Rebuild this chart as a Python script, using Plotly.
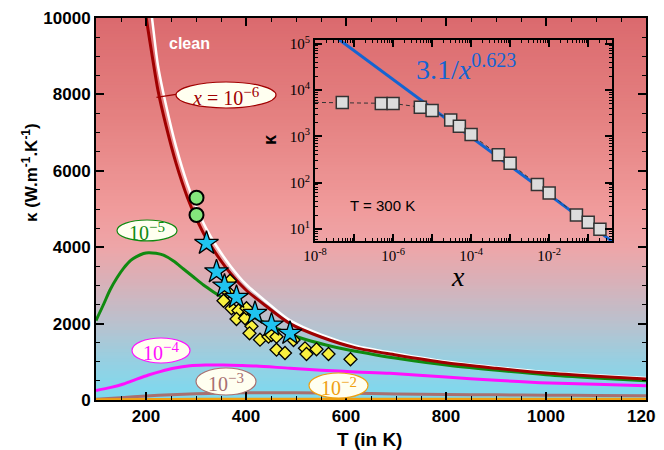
import plotly.graph_objects as go

# ---------------- main panel data ----------------
T_clean = [205, 212, 224, 240, 260, 283, 300, 320, 341, 370, 400, 440, 488, 550, 620, 700, 800, 900, 1000, 1100, 1200]
K_clean = [10650, 10000, 8750, 7720, 6640, 5650, 5070, 4500, 4030, 3490, 3030, 2580, 2085, 1712, 1416, 1221, 1010, 860, 734, 648, 578]

T_1e6 = [195, 200, 212, 224, 240, 260, 283, 300, 320, 341, 370, 400, 440, 488, 550, 620, 700, 800, 900, 1000, 1100, 1200]
K_1e6 = [10700, 10060, 9040, 8100, 7180, 6200, 5296, 4770, 4245, 3810, 3300, 2880, 2460, 2000, 1650, 1365, 1180, 975, 830, 705, 620, 550]

T_1e5 = [100, 115, 128, 142, 155, 170, 181, 195, 205, 220, 235, 255, 275, 295, 315, 335, 355, 380, 408, 435, 461, 508, 560, 608, 660, 708, 808, 908, 1000, 1100, 1200]
K_1e5 = [2080, 2500, 2880, 3200, 3447, 3660, 3752, 3835, 3857, 3840, 3790, 3640, 3430, 3220, 3011, 2830, 2662, 2440, 2225, 2040, 1877, 1630, 1440, 1300, 1180, 1080, 905, 770, 660, 575, 505]

T_1e4 = [100, 130, 155, 180, 205, 230, 255, 288, 320, 355, 390, 421, 488, 550, 620, 688, 800, 900, 988, 1100, 1200]
K_1e4 = [250, 330, 419, 540, 654, 750, 830, 898, 915, 916, 905, 890, 830, 780, 735, 698, 600, 515, 454, 410, 375]

T_1e3 = [100, 150, 200, 250, 300, 350, 400, 450, 500, 600, 700, 800, 900, 1000, 1100, 1200]
K_1e3 = [20, 60, 105, 140, 165, 180, 188, 192, 190, 175, 160, 145, 135, 125, 118, 113]

T_1e2 = [100, 200, 300, 400, 500, 600, 700, 800, 900, 1000, 1100, 1200]
K_1e2 = [4, 12, 17, 19, 20, 20, 20, 19, 19, 18, 18, 17]

T_circ = [301, 301]
K_circ = [5296, 4843]

T_star = [321, 341, 357, 381, 418, 451, 488]
K_star = [4102, 3359, 2985, 2689, 2269, 1964, 1745]

T_diam = [368, 364, 355, 371, 385, 381, 398, 401, 411, 407, 428, 445, 451, 461, 461, 478, 495, 518, 521, 541, 565, 609]
K_diam = [3123, 2827, 2597, 2401, 2343, 2121, 2139, 2401, 1929, 1746, 1579, 1657, 1702, 1657, 1317, 1230, 1571, 1353, 1204, 1327, 1204, 1066]

x_ticks = [200, 400, 600, 800, 1000, 1200]
y_ticks = [0, 2000, 4000, 6000, 8000, 10000]
y_ticktext = ["0", "2000", "4000", "6000", "8000", "10000"]

# ---------------- inset data ----------------
x_sq = [5e-8, 5e-7, 1e-6, 5e-6, 1e-5, 3e-5, 5e-5, 1e-4, 5e-4, 1e-3, 5e-3, 1e-2, 5e-2, 1e-1, 2e-1]
k_sq = [5350, 5130, 5130, 4270, 3630, 2240, 1660, 1100, 400, 263, 91, 60, 20, 14, 9.8]
x_dash = [1e-8] + x_sq
k_dash = [5400] + k_sq
x_fit = [3e-8, 0.41]
k_fit = [1.5e5, 5.4]
ix_ticks = [1e-8, 1e-7, 1e-6, 1e-5, 1e-4, 1e-3, 1e-2, 1e-1]
ix_text = ["10<sup>-8</sup>", "", "10<sup>-6</sup>", "", "10<sup>-4</sup>", "", "10<sup>-2</sup>", ""]
iy_ticks = [1e1, 1e2, 1e3, 1e4, 1e5]
iy_text = ["10<sup>1</sup>", "10<sup>2</sup>", "10<sup>3</sup>", "10<sup>4</sup>", "10<sup>5</sup>"]

# background gradient stops (K value -> colour)
grad_K = [0, 1000, 2000, 3000, 4000, 5000, 7500, 10000]
grad_rgb = [(122, 218, 240), (150, 208, 226), (185, 193, 206), (214, 178, 186),
            (238, 165, 168), (240, 155, 155), (228, 128, 128), (219, 106, 110)]

SERIF = "Liberation Serif"
SANS = "Liberation Sans"

fig = go.Figure()

def line(x, y, color, width, **kw):
    fig.add_trace(go.Scatter(x=x, y=y, mode="lines", line=dict(color=color, width=width, shape="spline", smoothing=0.8),
                             hoverinfo="skip", **kw))

line(T_1e3, K_1e3, "#a87070", 3)
line(T_1e2, K_1e2, "#f0a010", 3)
line(T_1e4, K_1e4, "#ff10ff", 3)
line(T_1e5, K_1e5, "#108a10", 3)
line(T_clean, K_clean, "white", 2.5)
line(T_1e6, K_1e6, "#a00000", 3)

fig.add_trace(go.Scatter(x=T_diam, y=K_diam, mode="markers", hoverinfo="skip",
                         marker=dict(symbol="diamond", size=10, color="#f8f040", line=dict(color="black", width=1.3))))
fig.add_trace(go.Scatter(x=T_star, y=K_star, mode="markers", hoverinfo="skip",
                         marker=dict(symbol="star", size=18, color="#20c4f0", line=dict(color="black", width=1.3))))
fig.add_trace(go.Scatter(x=T_circ, y=K_circ, mode="markers", hoverinfo="skip",
                         marker=dict(symbol="circle", size=14, color="#84e67c", line=dict(color="black", width=2))))

# inset traces
fig.add_trace(go.Scatter(x=x_fit, y=k_fit, mode="lines", xaxis="x2", yaxis="y2", hoverinfo="skip",
                         line=dict(color="#1464d2", width=3)))
fig.add_trace(go.Scatter(x=x_dash, y=k_dash, mode="lines", xaxis="x2", yaxis="y2", hoverinfo="skip",
                         line=dict(color="#333333", width=1, dash="4px,3px")))
fig.add_trace(go.Scatter(x=x_sq, y=k_sq, mode="markers", xaxis="x2", yaxis="y2", hoverinfo="skip",
                         marker=dict(symbol="square", size=12, color="#dcdcdc", line=dict(color="#333333", width=1.5))))

shapes = []
# gradient: stacked rectangles from each level up to the top (no gaps)
n = 120
for i in range(n):
    y0 = 10000 * i / n
    ym = 10000 * (i + 0.5) / n
    for j in range(len(grad_K) - 1):
        if grad_K[j] <= ym <= grad_K[j + 1]:
            f = (ym - grad_K[j]) / (grad_K[j + 1] - grad_K[j])
            c = tuple(round(grad_rgb[j][k] + f * (grad_rgb[j + 1][k] - grad_rgb[j][k])) for k in range(3))
            break
    shapes.append(dict(type="rect", xref="x", yref="y", x0=100, x1=1200, y0=y0, y1=10000,
                       fillcolor="rgb(%d,%d,%d)" % c, line=dict(width=0), layer="below"))
# inset background
shapes.append(dict(type="rect", xref="x2 domain", yref="y2 domain", x0=0, x1=1, y0=0, y1=1,
                   fillcolor="#fdfde9", line=dict(width=0), layer="below"))

def sup(t, px):
    return "<sup><span style='font-size:%dpx'>%s</span></sup>" % (px, t)

IVORY = "#fffff0"
ellipses = [
    # (x0, x1, y0, y1, colour, text)
    (260, 460, 7644, 8325, "#a00000", "<i>x</i> = 10" + sup("−6", 15)),
    (142, 262, 4163, 4712, "#108a10", "10" + sup("−5", 15)),
    (172, 288, 969, 1623, "#ff10ff", "10" + sup("−4", 15)),
    (300, 420, 131, 838, "#a87070", "10" + sup("−3", 15)),
    (526, 644, 52, 707, "#f0a010", "10" + sup("−2", 15)),
]
annotations = []
for x0, x1, y0, y1, col, txt in ellipses:
    shapes.append(dict(type="circle", xref="x", yref="y", x0=x0, x1=x1, y0=y0, y1=y1,
                       fillcolor=IVORY, line=dict(color=col, width=1.2), layer="above"))
    annotations.append(dict(x=(x0 + x1) / 2, y=(y0 + y1) / 2 - 30, xref="x", yref="y", text=txt, showarrow=False,
                            font=dict(family=SERIF, size=20, color=col)))
# connector for x = 1e-6 label
shapes.append(dict(type="line", xref="x", yref="y", x0=221, y0=7925, x1=260, y1=8000,
                   line=dict(color="#a00000", width=1.3), layer="above"))

annotations += [
    dict(x=286, y=9320, xref="x", yref="y", text="<b>clean</b>", showarrow=False,
         font=dict(family=SANS, size=16, color="white")),
    dict(x=30, y=173, xref="paper", yref="paper", text="<b>κ (W.m<sup>-1</sup>.K<sup>-1</sup>)</b>",
         showarrow=False, textangle=-90, font=dict(family=SANS, size=17, color="black")),
    dict(x=369, y=439, xref="paper", yref="paper", text="<b>T (in K)</b>",
         showarrow=False, font=dict(family=SANS, size=19, color="black")),
    dict(x=0.51, y=0.866, xref="x2 domain", yref="y2 domain", text="3.1/<i>x</i>" + sup("0.623", 20),
         showarrow=False, font=dict(family=SERIF, size=28, color="#1464d2")),
    dict(x=0.226, y=0.179, xref="x2 domain", yref="y2 domain", text="T = 300 K",
         showarrow=False, font=dict(family=SANS, size=15, color="black")),
    dict(x=458, y=276, xref="paper", yref="paper", text="<i>x</i>",
         showarrow=False, font=dict(family=SERIF, size=28, color="black")),
    dict(x=270, y=140, xref="paper", yref="paper", text="<b>κ</b>", textangle=-90,
         showarrow=False, font=dict(family=SANS, size=18, color="black")),
]
for a in annotations:
    a["xanchor"] = "center"
    a["yanchor"] = "middle"

# page has an 8px body margin: figure is shrunk so the plot area lands at page px 96..646 x 18..400
PAGE_OFF = 8
W, H = 664 - PAGE_OFF, 450 - PAGE_OFF
PX_L, PX_R, PX_T, PX_B = 96, 646, 18, 400
L, R, Tm = PX_L - PAGE_OFF, 664 - PX_R, PX_T - PAGE_OFF
B = H - Tm - (PX_B - PX_T)
for a in annotations:
    if a["xref"] == "paper":
        a["x"] = (a["x"] - PX_L) / (PX_R - PX_L)
        a["y"] = (PX_B - a["y"]) / (PX_B - PX_T)

tickfont = dict(family=SANS, size=17, color="black", weight="bold")
axis_common = dict(showline=True, linewidth=2, linecolor="black", mirror="allticks", ticks="inside",
                   ticklen=8, tickwidth=1.5, tickcolor="black", showgrid=False, zeroline=False,
                   automargin=False, ticklabeloverflow="allow")
inset_common = dict(showline=True, linewidth=2, linecolor="black", mirror="allticks", ticks="inside",
                    ticklen=7, tickwidth=1.5, tickcolor="black", showgrid=False, zeroline=False,
                    automargin=False, tickfont=dict(family=SERIF, size=15, color="black"),
                    minor=dict(ticks="inside", ticklen=3, tickwidth=1, tickcolor="black", dtick="D1"))

fig.update_layout(
    width=W, height=H,
    margin=dict(l=L, r=R, t=Tm, b=B),
    paper_bgcolor="white", plot_bgcolor="rgba(0,0,0,0)",
    showlegend=False,
    shapes=shapes, annotations=annotations,
    xaxis=dict(range=[100, 1200], tickvals=x_ticks, tickfont=tickfont,
               minor=dict(ticks="inside", ticklen=4, tickwidth=1.2, tickcolor="black", dtick=50, tick0=0),
               **axis_common),
    yaxis=dict(range=[0, 10000], tickvals=y_ticks, ticktext=y_ticktext, tickfont=tickfont,
               minor=dict(ticks="inside", ticklen=4, tickwidth=1.2, tickcolor="black", dtick=500, tick0=0),
               **axis_common),
    xaxis2=dict(type="log", range=[-8, -0.39], domain=[(315 - PX_L) / 550, (612 - PX_L) / 550], anchor="y2",
                tickvals=ix_ticks, ticktext=ix_text, **inset_common),
    yaxis2=dict(type="log", range=[0.74, 5.08], domain=[(PX_B - 241) / 382, (PX_B - 40) / 382], anchor="x2",
                tickvals=iy_ticks, ticktext=iy_text, **inset_common),
)

fig.write_html("out.html")
